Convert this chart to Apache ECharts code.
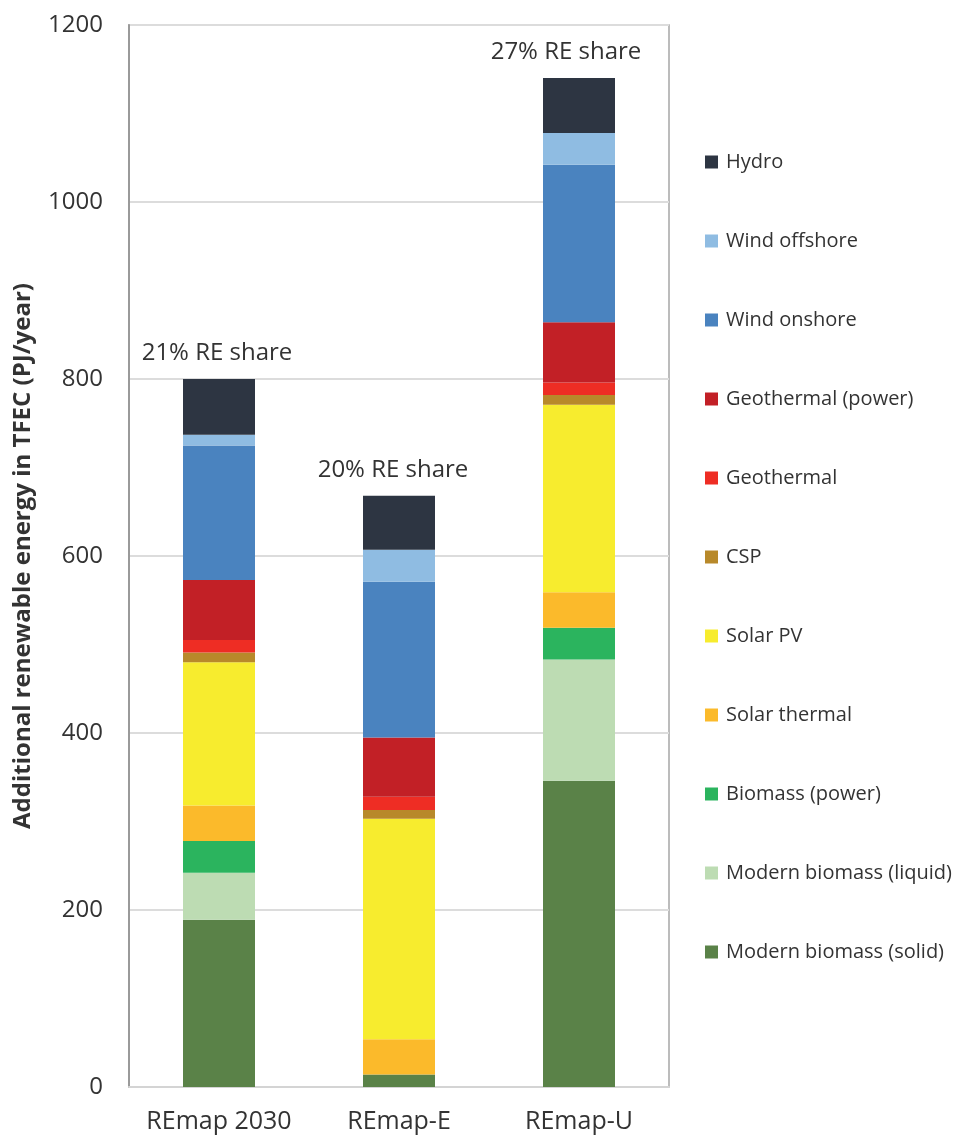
<!DOCTYPE html>
<html>
<head>
<meta charset="utf-8">
<title>Additional renewable energy in TFEC</title>
<script src="https://cdn.jsdelivr.net/npm/echarts@6/dist/echarts.min.js"></script>
<style>
  html, body { margin: 0; padding: 0; background: #ffffff; }
  #chart { width: 961px; height: 1140px; }
</style>
</head>
<body>
<div id="chart"></div>
<script>
// Scenarios on the x axis
const categories = ['REmap 2030', 'REmap-E', 'REmap-U'];

// Additional renewable energy by source, PJ/year (stacked bottom to top)
const modernBiomassSolid  = [189, 14, 346];
const modernBiomassLiquid = [53, 0, 137];
const biomassPower        = [36, 0, 36];
const solarThermal        = [40, 40, 40];
const solarPV             = [162, 249, 212];
const csp                 = [11, 10, 11];
const geothermal          = [14, 15, 14];
const geothermalPower     = [68, 67, 68];
const windOnshore         = [152, 176, 178];
const windOffshore        = [12, 36, 36];
const hydro               = [63, 61, 62];

// Renewable share of each scenario, written above its bar
const reShare = [21, 20, 27];

// Y axis ticks
const yTicks = { min: 0, max: 1200, step: 200 };

const FONT = '"Open Sans", "Noto Sans", sans-serif';
const TEXT = '#333333';

const stack = [
  { name: 'Modern biomass (solid)',  data: modernBiomassSolid,  color: '#5a8248' },
  { name: 'Modern biomass (liquid)', data: modernBiomassLiquid, color: '#bddcb3' },
  { name: 'Biomass (power)',         data: biomassPower,        color: '#2bb45e' },
  { name: 'Solar thermal',           data: solarThermal,        color: '#fbba2b' },
  { name: 'Solar PV',                data: solarPV,             color: '#f7ec2e' },
  { name: 'CSP',                     data: csp,                 color: '#b8892a' },
  { name: 'Geothermal',              data: geothermal,          color: '#ee2d24' },
  { name: 'Geothermal (power)',      data: geothermalPower,     color: '#c22026' },
  { name: 'Wind onshore',            data: windOnshore,         color: '#4a83bf' },
  { name: 'Wind offshore',           data: windOffshore,        color: '#8fbce2' },
  { name: 'Hydro',                   data: hydro,               color: '#2d3542' }
];

// small horizontal nudges for the share captions
const captionShift = [-2, -6, -13];

const series = stack.map((s, i) => {
  const isTop = i === stack.length - 1;
  return {
    name: s.name,
    type: 'bar',
    stack: 'total',
    barWidth: '40%',
    itemStyle: { color: s.color },
    emphasis: { disabled: true },
    data: s.data.map((v, j) => {
      if (!isTop) return v;
      return {
        value: v,
        label: {
          show: true,
          position: 'top',
          distance: 14,
          offset: [captionShift[j], 0],
          formatter: () => reShare[j] + '% RE share',
          fontFamily: FONT,
          fontSize: 24,
          color: TEXT
        }
      };
    })
  };
});

const chart = echarts.init(document.getElementById('chart'), null, { renderer: 'canvas' });
chart.setOption({
  animation: false,
  backgroundColor: '#ffffff',
  grid: {
    left: 129, right: 292, top: 25, bottom: 53,
    show: true,
    borderColor: '#a6a6a6',
    borderWidth: 1.5,
    backgroundColor: 'transparent'
  },
  legend: {
    orient: 'vertical',
    left: 700,
    top: 147,
    itemWidth: 13,
    itemHeight: 13,
    itemGap: 59,
    icon: 'rect',
    selectedMode: false,
    data: stack.map(s => s.name).reverse(),
    textStyle: {
      fontFamily: FONT,
      fontSize: 20,
      lineHeight: 20,
      color: TEXT,
      padding: [0, 0, 0, 3]
    }
  },
  xAxis: {
    type: 'category',
    data: categories,
    axisTick: { show: false },
    axisLine: { show: true, lineStyle: { color: '#d4d4d4', width: 2 } },
    axisLabel: {
      interval: 0,
      fontFamily: FONT,
      fontSize: 25,
      color: TEXT,
      margin: 22
    }
  },
  yAxis: {
    type: 'value',
    min: yTicks.min,
    max: yTicks.max,
    interval: yTicks.step,
    name: 'Additional renewable energy in TFEC (PJ/year)',
    nameLocation: 'middle',
    nameGap: 94,
    nameTextStyle: {
      fontFamily: FONT,
      fontWeight: 'bold',
      fontSize: 24,
      color: TEXT
    },
    axisLine: { show: true, lineStyle: { color: '#9a9a9a', width: 2 } },
    axisTick: { show: false },
    axisLabel: {
      fontFamily: FONT,
      fontSize: 24,
      color: TEXT,
      margin: 26,
      formatter: v => String(v)
    },
    splitLine: { show: true, lineStyle: { color: '#dcdcdc', width: 2 } }
  },
  series: series
});
</script>
</body>
</html>
